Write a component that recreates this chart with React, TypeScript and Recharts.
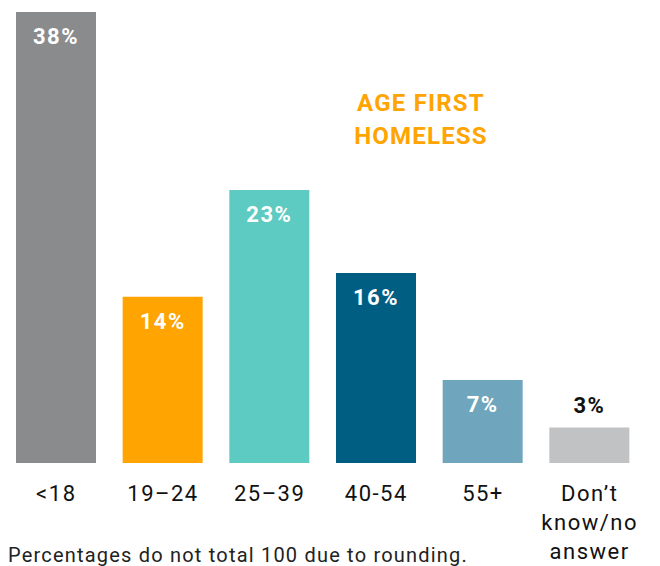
import React from 'react'
import { BarChart, Bar, XAxis, YAxis, Cell, LabelList } from 'recharts'

// age first homeless, share of respondents (%)
const categories = ['<18', '19–24', '25–39', '40-54', '55+', 'Don’t know/no answer']
const tickLines = [['<18'], ['19–24'], ['25–39'], ['40-54'], ['55+'], ['Don’t', 'know/no', 'answer']]
const shares = [38, 14, 23, 16, 7, 3]
const colors = ['#8a8b8d', '#ffa400', '#5ecbc2', '#005e83', '#6fa6bd', '#c1c2c4']

const data = categories.map((name, i) => ({ name, value: shares[i] }))

const font = 'Roboto, "DejaVu Sans", sans-serif'

function AgeTick(props: any) {
  const { x, y, index } = props
  const lines = tickLines[index] || []
  return (
    <g>
      {lines.map((l, i) => (
        <text
          key={i}
          x={x}
          y={y + 30 + i * 29}
          textAnchor="middle"
          fontSize={22}
          letterSpacing={1.5}
          fill="#111"
          fontFamily={font}
        >
          {l}
        </text>
      ))}
    </g>
  )
}

function ValueLabel(props: any) {
  const { x, y, width, value } = props
  const small = value < 5
  return (
    <text
      x={x + width / 2}
      y={small ? y - 14 : y + 32}
      textAnchor="middle"
      fontSize={22}
      letterSpacing={1.5}
      fontWeight="bold"
      fill={small ? '#111' : '#fff'}
      fontFamily={font}
    >
      {value}%
    </text>
  )
}

export default function App() {
  return (
    <div style={{ position: 'absolute', left: 0, top: 0, width: 660, height: 566, overflow: 'hidden', background: '#fff' }}>
      <BarChart width={660} height={566} data={data} margin={{ top: 12, right: 17, bottom: 0, left: 3 }} barSize={80}>
        <XAxis dataKey="name" height={103} axisLine={false} tickLine={false} interval={0} tick={<AgeTick />} />
        <YAxis hide domain={[0, 38]} />
        <Bar dataKey="value" isAnimationActive={false}>
          {data.map((d, i) => (
            <Cell key={d.name} fill={colors[i]} />
          ))}
          <LabelList dataKey="value" content={<ValueLabel />} />
        </Bar>
      </BarChart>
      <div
        style={{
          position: 'absolute',
          left: 300,
          top: 87,
          width: 242,
          textAlign: 'center',
          color: '#ffa400',
          fontFamily: font,
          fontWeight: 'bold',
          fontSize: 24,
          letterSpacing: 1.2,
          lineHeight: '33px',
        }}
      >
        AGE FIRST
        <br />
        HOMELESS
      </div>
      <div
        style={{
          position: 'absolute',
          left: 8,
          top: 542,
          fontFamily: font,
          fontSize: 20,
          letterSpacing: 1.2,
          lineHeight: '26px',
          color: '#222',
          whiteSpace: 'nowrap',
        }}
      >
        Percentages do not total 100 due to rounding.
      </div>
    </div>
  )
}
